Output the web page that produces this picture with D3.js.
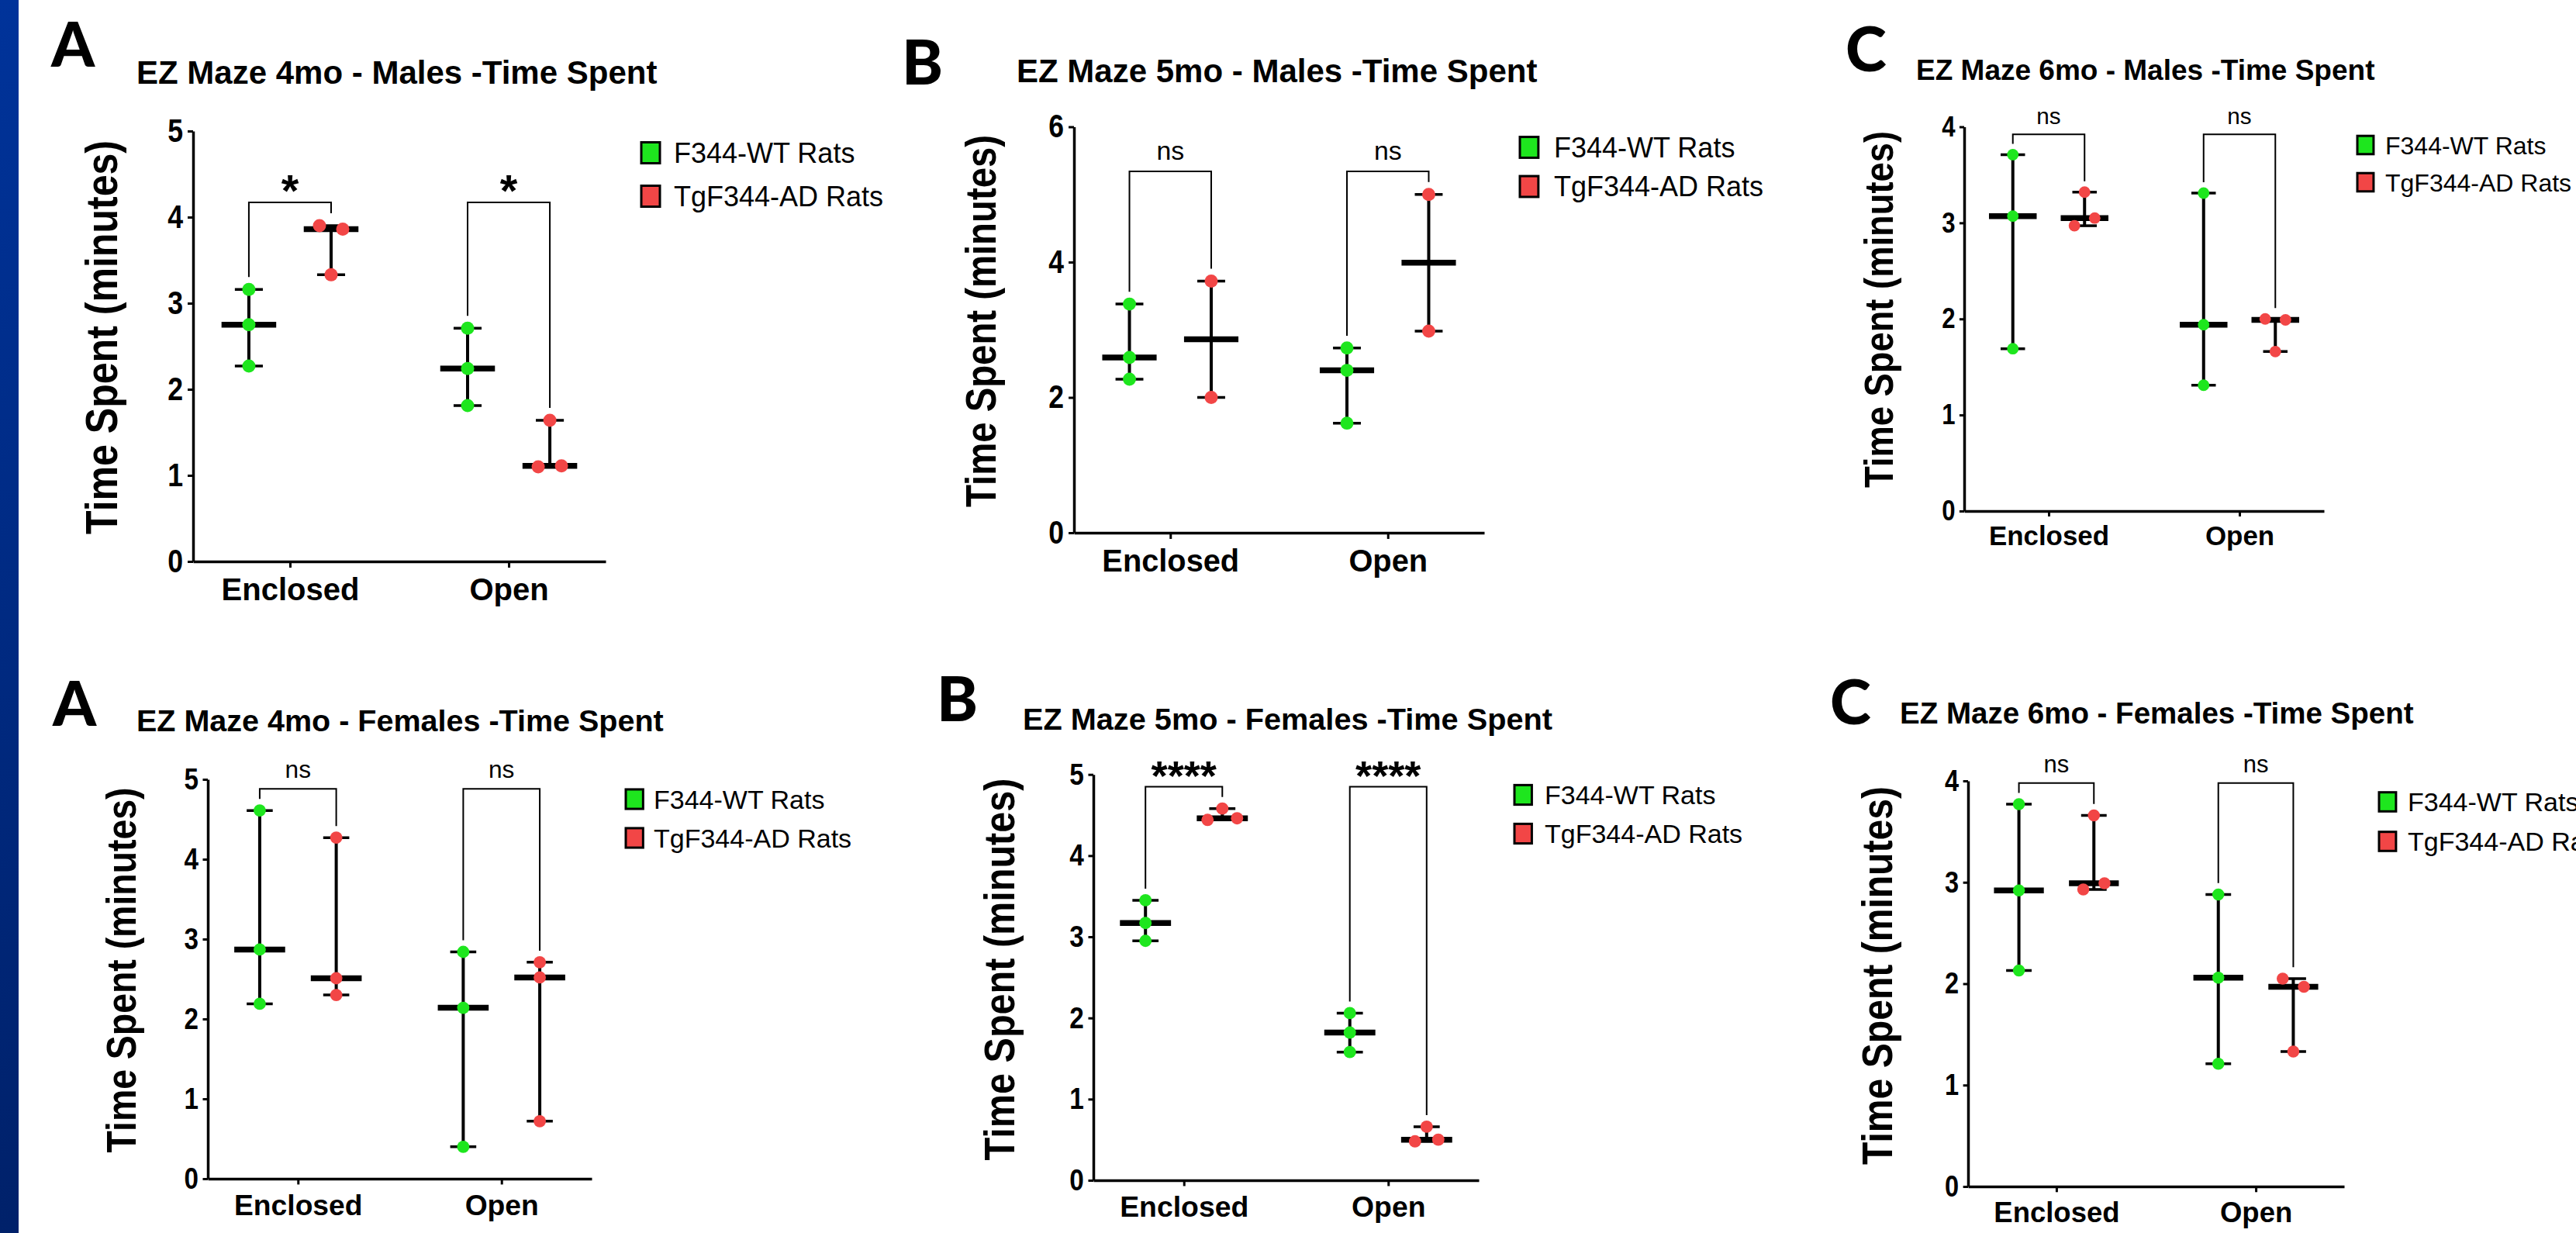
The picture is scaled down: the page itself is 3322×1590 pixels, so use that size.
<!DOCTYPE html>
<html>
<head>
<meta charset="utf-8"/>
<script src="https://cdn.jsdelivr.net/npm/d3@7"></script>
<style>
  body { margin: 0; background: #fff; }
  svg text { font-family: "Liberation Sans", Arial, sans-serif; }
</style>
</head>
<body>
<svg id="chart" width="3322" height="1590"></svg>
<script>
var categories = ["Enclosed", "Open"];
var groups = ["F344-WT Rats", "TgF344-AD Rats"];
var groupColors = ["#1ee61e", "#f24646"];

var panelLetters = ["A", "B", "C", "A", "B", "C"];
var panelTitles = [
  "EZ Maze 4mo - Males -Time Spent",
  "EZ Maze 5mo - Males -Time Spent",
  "EZ Maze 6mo - Males -Time Spent",
  "EZ Maze 4mo - Females -Time Spent",
  "EZ Maze 5mo - Females -Time Spent",
  "EZ Maze 6mo - Females -Time Spent"
];
var yTitle = "Time Spent (minutes)";
var yMaxes = [5, 6, 4, 5, 5, 4];
var yTicks = [
  [0, 1, 2, 3, 4, 5],
  [0, 2, 4, 6],
  [0, 1, 2, 3, 4],
  [0, 1, 2, 3, 4, 5],
  [0, 1, 2, 3, 4, 5],
  [0, 1, 2, 3, 4]
];
var sigLabels = [
  ["*", "*"],
  ["ns", "ns"],
  ["ns", "ns"],
  ["ns", "ns"],
  ["****", "****"],
  ["ns", "ns"]
];

// minutes, [Enclosed, Open]
var males4moWT = [[3.16, 2.75, 2.27], [2.71, 2.24, 1.81]];
var males4moTg = [[3.90, 3.86, 3.33], [1.10, 1.11, 1.64]];
var males5moWT = [[3.38, 2.59, 2.27], [2.73, 2.40, 1.62]];
var males5moTg = [[3.72, 2.00], [5.00, 2.98]];
var males6moWT = [[3.71, 3.07, 1.69], [3.31, 1.94, 1.31]];
var males6moTg = [[2.97, 3.05, 3.32], [2.00, 1.99, 1.66]];
var females4moWT = [[4.61, 2.87, 2.19], [2.84, 2.14, 0.40]];
var females4moTg = [[4.27, 2.51, 2.30], [2.71, 2.52, 0.72]];
var females5moWT = [[3.45, 3.17, 2.95], [2.06, 1.82, 1.58]];
var females5moTg = [[4.44, 4.46, 4.58], [0.48, 0.50, 0.66]];
var females6moWT = [[3.77, 2.92, 2.13], [2.88, 2.06, 1.21]];
var females6moTg = [[2.93, 2.99, 3.66], [2.05, 1.97, 1.33]];

var wtValues = [males4moWT, males5moWT, males6moWT, females4moWT, females5moWT, females6moWT];
var tgValues = [males4moTg, males5moTg, males6moTg, females4moTg, females5moTg, females6moTg];

// where each panel sits on the page (px)
var layout = [
  {x0: 249, x1: 781, yTop: 169, yBot: 724, letter: [66, 86], title: [176, 108, 42], ytitle: [130, 435, 508, 58], legend: [827, 197, 56, 869, 36]},
  {x0: 1385, x1: 1914, yTop: 163.5, yBot: 687, letter: [1163, 109], title: [1311, 106, 42], ytitle: [1264, 414, 480, 55], legend: [1960, 190, 50.5, 2004, 36]},
  {x0: 2533, x1: 2997, yTop: 163.5, yBot: 659, letter: [2380, 92], title: [2471, 103, 37], ytitle: [2422, 399, 460, 52], legend: [3040, 187, 48, 3076, 32]},
  {x0: 268, x1: 763, yTop: 1005, yBot: 1520, letter: [68, 936], title: [176, 943, 39.5], ytitle: [156, 1251, 471, 53], legend: [807, 1030.5, 50, 843, 34]},
  {x0: 1410, x1: 1907, yTop: 998.7, yBot: 1522, letter: [1208, 930], title: [1319, 941, 39.7], ytitle: [1288, 1250, 493, 56], legend: [1953, 1025, 50, 1992, 34]},
  {x0: 2538, x1: 3023, yTop: 1007, yBot: 1530, letter: [2360, 934], title: [2450, 933, 38.5], ytitle: [2420, 1258, 488, 56], legend: [3068, 1034, 51, 3105, 34]}
];

var svg = d3.select("#chart");
svg.append("rect").attr("width", 3322).attr("height", 1590).attr("fill", "#fff");

// blue strip on the left edge
var grad = svg.append("defs").append("linearGradient")
  .attr("id", "band").attr("x1", 0).attr("y1", 0).attr("x2", 0).attr("y2", 1);
grad.append("stop").attr("offset", "0%").attr("stop-color", "#00339a");
grad.append("stop").attr("offset", "100%").attr("stop-color", "#00216a");
svg.append("rect").attr("width", 24).attr("height", 1590).attr("fill", "url(#band)");

layout.forEach(function(L, p) { drawPanel(L, p); });

function squeeze(sel, f) {
  sel.each(function() {
    var w = this.getComputedTextLength();
    d3.select(this).attr("textLength", w * f).attr("lengthAdjust", "spacingAndGlyphs");
  });
}

// spread overlapping dots sideways, rows centred like Prism does
function swarm(vals, y, k) {
  var idx = d3.range(vals.length).sort(function(a, b) { return vals[a] - vals[b]; });
  var rows = [], cur = [idx[0]];
  for (var i = 1; i < idx.length; i++) {
    if (Math.abs(y(vals[idx[i]]) - y(vals[idx[i - 1]])) < 11.5) cur.push(idx[i]);
    else { rows.push(cur); cur = [idx[i]]; }
  }
  rows.push(cur);
  var off = vals.map(function() { return 0; });
  rows.forEach(function(row) {
    if (row.length < 2) return;
    row.sort(d3.ascending);
    var s = 30 * k, fits = false;
    while (!fits && s < 100) {
      fits = true;
      row.forEach(function(j, n) {
        var dx = (n - (row.length - 1) / 2) * s;
        vals.forEach(function(v, m) {
          if (row.indexOf(m) >= 0) return;
          if (Math.hypot(dx - off[m], y(vals[j]) - y(v)) < 24 * k) fits = false;
        });
      });
      if (!fits) s += 1;
    }
    row.forEach(function(j, n) { off[j] = (n - (row.length - 1) / 2) * s; });
  });
  return off;
}

function drawPanel(L, p) {
  var g = svg.append("g");
  var y = d3.scaleLinear().domain([0, yMaxes[p]]).range([L.yBot, L.yTop]);
  var x = d3.scalePoint().domain(categories).range([L.x0, L.x1]).padding(0.443);
  var step = x.step();
  var k = step / 282;
  var gx = d3.scalePoint().domain(groups).range([-0.188 * step, 0.188 * step]);

  // panel letter and title
  g.append("text").attr("x", L.letter[0]).attr("y", L.letter[1])
    .style("font-family", "Lato, 'Open Sans', sans-serif").attr("font-weight", 900)
    .attr("font-size", 80).text(panelLetters[p]);
  g.append("text").attr("x", L.title[0]).attr("y", L.title[1])
    .attr("font-weight", "bold").attr("font-size", L.title[2]).text(panelTitles[p]);

  // y axis
  var ya = g.append("g").attr("transform", "translate(" + L.x0 + ",0)")
    .call(d3.axisLeft(y).tickValues(yTicks[p]).tickSize(7 * k).tickSizeOuter(0)
      .tickPadding(6 * k).tickFormat(d3.format("d")));
  ya.select(".domain").attr("stroke-width", 3.5);
  ya.selectAll(".tick line").attr("stroke-width", 3);
  var yl = ya.selectAll(".tick text").attr("fill", "#000").attr("font-weight", "bold")
    .attr("font-size", 42 * k).attr("font-family", null);
  squeeze(yl, 0.85);

  // x axis
  var xa = g.append("g").attr("transform", "translate(0," + L.yBot + ")")
    .call(d3.axisBottom(x).tickSize(8 * k).tickSizeOuter(0).tickPadding(14 * k));
  xa.select(".domain").attr("stroke-width", 3.5);
  xa.selectAll(".tick line").attr("stroke-width", 3);
  xa.selectAll(".tick text").attr("fill", "#000").attr("font-weight", "bold")
    .attr("font-size", 40 * k).attr("font-family", null);

  // y axis title
  g.append("text")
    .attr("transform", "translate(" + L.ytitle[0] + "," + L.ytitle[1] + ") rotate(-90)")
    .attr("text-anchor", "middle").attr("dy", "0.36em")
    .attr("font-weight", "bold").attr("font-size", L.ytitle[3])
    .attr("textLength", L.ytitle[2]).attr("lengthAdjust", "spacingAndGlyphs")
    .text(yTitle);

  // significance brackets
  var allMax = d3.max(wtValues[p].concat(tgValues[p]), function(a) { return d3.max(a); });
  var by = y(allMax) - 30 * k;
  categories.forEach(function(cat, ci) {
    var xl = x(cat) + gx(groups[0]), xr = x(cat) + gx(groups[1]);
    var legL = y(d3.max(wtValues[p][ci])) - 16 * k;
    var legR = y(d3.max(tgValues[p][ci])) - 16 * k;
    g.append("path")
      .attr("d", "M" + xl + "," + legL + "V" + by + "H" + xr + "V" + legR)
      .attr("fill", "none").attr("stroke", "#000").attr("stroke-width", 2);
    var lab = sigLabels[p][ci];
    var star = lab.indexOf("*") >= 0;
    g.append("text").attr("x", x(cat)).attr("y", star ? by + 5 * k : by - 15 * k)
      .attr("text-anchor", "middle")
      .attr("font-weight", star ? "bold" : "normal")
      .attr("font-size", star ? 58 * k : 34 * k)
      .text(lab);
  });

  // median with range, then dots
  categories.forEach(function(cat, ci) {
    [wtValues[p][ci], tgValues[p][ci]].forEach(function(vals, gi) {
      var cx = x(cat) + gx(groups[gi]);
      var ext = d3.extent(vals), med = d3.median(vals);
      var capW = 0.128 * step, medW = 0.25 * step;
      g.append("line").attr("x1", cx).attr("x2", cx)
        .attr("y1", y(ext[0])).attr("y2", y(ext[1]))
        .attr("stroke", "#000").attr("stroke-width", 4);
      g.selectAll(null).data(ext).enter().append("line")
        .attr("x1", cx - capW / 2).attr("x2", cx + capW / 2)
        .attr("y1", function(d) { return y(d); }).attr("y2", function(d) { return y(d); })
        .attr("stroke", "#000").attr("stroke-width", 3.5);
      g.append("line").attr("x1", cx - medW / 2).attr("x2", cx + medW / 2)
        .attr("y1", y(med)).attr("y2", y(med))
        .attr("stroke", "#000").attr("stroke-width", 7.5);
      var offs = swarm(vals, y, k);
      g.selectAll(null).data(vals).enter().append("circle")
        .attr("cx", function(d, i) { return cx + offs[i]; })
        .attr("cy", function(d) { return y(d); })
        .attr("r", 8.5 * k)
        .attr("fill", groupColors[gi]);
    });
  });

  // legend
  var lg = L.legend;
  groups.forEach(function(name, gi) {
    var cy = lg[1] + gi * lg[2];
    g.append("rect").attr("x", lg[0]).attr("y", cy - 13.5 * k)
      .attr("width", 24 * k).attr("height", 27 * k)
      .attr("fill", groupColors[gi]).attr("stroke", "#000").attr("stroke-width", 3);
    g.append("text").attr("x", lg[3]).attr("y", cy).attr("dy", "0.36em")
      .attr("font-size", lg[4]).text(name);
  });
}
</script>
</body>
</html>
